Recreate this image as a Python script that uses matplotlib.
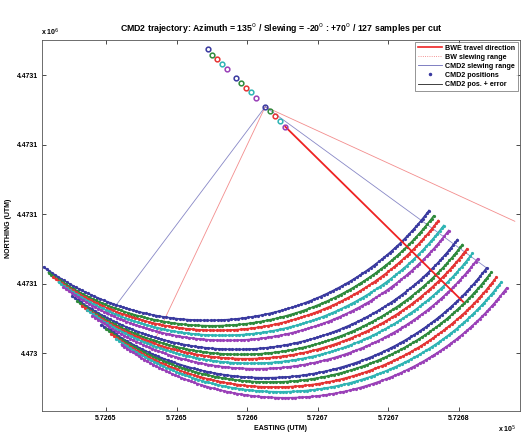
import numpy as np
import matplotlib.pyplot as plt
from matplotlib.lines import Line2D

# BWE pivot position for every cut (UTM metres), 3 blocks of 5 cuts
pivot_e = [572657.20, 572657.53, 572657.86, 572658.24, 572658.59,
           572659.21, 572659.56, 572659.89, 572660.27, 572660.64,
           572661.28, 572661.61, 572661.97, 572662.32, 572662.70]
pivot_n = [4473071.85, 4473071.46, 4473071.13, 4473070.77, 4473070.41,
           4473069.76, 4473069.40, 4473069.09, 4473068.76, 4473068.37,
           4473067.72, 4473067.41, 4473067.05, 4473066.71, 4473066.28]

azimuth = 135.0          # travel direction, deg from north
slew_bw = [-20.0, 70.0]  # bucket wheel slewing range
cmd2_offset = 11.5       # CMD2 sits turned against the boom axis
radius = 19.5            # m
n_samples = 127
travel_len = 17.8        # m

cut_colors = ['#3a3aa0', '#2e8a3c', '#e53434', '#2fb4b4', '#9a40b8']

x_ticks = [572650, 572655, 572660, 572665, 572670, 572675]
x_labels = ['5.7265', '5.7265', '5.7266', '5.7267', '5.7267', '5.7268']
y_ticks = [4473050, 4473055, 4473060, 4473065, 4473070]
y_labels = ['4.473', '4.4731', '4.4731', '4.4731', '4.4731']

legend_labels = ['BWE travel direction', 'BW slewing range', 'CMD2 slewing range',
                 'CMD2 positions', 'CMD2 pos. + error']

plt.rcParams['font.family'] = ['Liberation Sans', 'DejaVu Sans']

fig = plt.figure(figsize=(5.25, 4.37), dpi=100)
ax = fig.add_axes([42 / 525, 26 / 437, 478 / 525, 371 / 437])


def ray(e0, n0, az, length):
    a = np.radians(az)
    return [e0, e0 + length * np.sin(a)], [n0, n0 + length * np.cos(a)]


# slewing range lines from the pivot of the third block
k = 10
for s in slew_bw:
    xs, ys = ray(pivot_e[k], pivot_n[k], azimuth + s, radius)
    ax.plot(xs, ys, color='#f07070', lw=0.6, alpha=0.8, zorder=1)
for s in slew_bw:
    xs, ys = ray(pivot_e[k], pivot_n[k], azimuth + s + cmd2_offset, radius)
    ax.plot(xs, ys, color='#6a6ab8', lw=0.6, alpha=0.8, zorder=1)

# CMD2 trajectories, one arc per cut
az = np.radians(np.linspace(azimuth + slew_bw[0] + cmd2_offset,
                            azimuth + slew_bw[1] + cmd2_offset, n_samples))
for i in range(len(pivot_e)):
    c = cut_colors[i % 5]
    ae = pivot_e[i] + radius * np.sin(az)
    an = pivot_n[i] + radius * np.cos(az)
    ax.plot(ae, an, color='#202020', lw=0.4, zorder=2)
    ax.plot(ae, an, color=c, lw=1.2, marker='.', ms=2.6, zorder=3)

# travel direction
xs, ys = ray(pivot_e[-1], pivot_n[-1], azimuth, travel_len)
ax.plot(xs, ys, color='#ee2222', lw=1.3, zorder=5)

# pivot positions
for i in range(len(pivot_e)):
    ax.plot(pivot_e[i], pivot_n[i], 'o', color=cut_colors[i % 5], ms=3.4,
            mfc='none', mew=1.1, zorder=6)

ax.set_xlim(572645.47, 572679.32)
ax.set_ylim(4473045.83, 4473072.52)
ax.set_xticks(x_ticks)
ax.set_xticklabels(x_labels)
ax.set_yticks(y_ticks)
ax.set_yticklabels(y_labels)
ax.tick_params(direction='in', length=3, width=0.5, labelsize=5,
               top=True, right=True, pad=3)
for lab in ax.get_xticklabels() + ax.get_yticklabels():
    lab.set_fontweight('bold')
for sp in ax.spines.values():
    sp.set_linewidth(0.6)
    sp.set_color('#555555')

fig.text(281 / 525, 1 - 29 / 437,
         'CMD2 trajectory: Azimuth = 135$^0$ / Slewing = -20$^0$ : +70$^0$ / 127 samples per cut',
         ha='center', va='center', fontsize=6.3, fontweight='bold')
fig.text(281 / 525, 1 - 428 / 437, 'EASTING (UTM)', ha='center', va='center',
         fontsize=5, fontweight='bold')
fig.text(9 / 525, 1 - 228 / 437, 'NORTHING (UTM)', ha='center', va='center',
         rotation=90, fontsize=5, fontweight='bold')
fig.text(50 / 525, 1 - 32 / 437, 'x 10$^6$', ha='center', va='center',
         fontsize=5, fontweight='bold')
fig.text(507 / 525, 1 - 429 / 437, 'x 10$^5$', ha='center', va='center',
         fontsize=5, fontweight='bold')

handles = [Line2D([], [], color='#ee2222', lw=1.2),
           Line2D([], [], color='#f07070', lw=0.6, ls=':'),
           Line2D([], [], color='#6a6ab8', lw=0.6),
           Line2D([], [], color='#3a3aa0', ls='none', marker='.', ms=3),
           Line2D([], [], color='#202020', lw=0.6)]
leg = ax.legend(handles, legend_labels, loc='upper right', fontsize=5.1,
                frameon=True, fancybox=False, borderpad=0.4, labelspacing=0.3,
                handlelength=3.4, handletextpad=0.5, borderaxespad=0.25)
leg.get_frame().set_edgecolor('#444444')
leg.get_frame().set_linewidth(0.5)
for t in leg.get_texts():
    t.set_fontweight('bold')

plt.savefig('out.png', dpi=100)
